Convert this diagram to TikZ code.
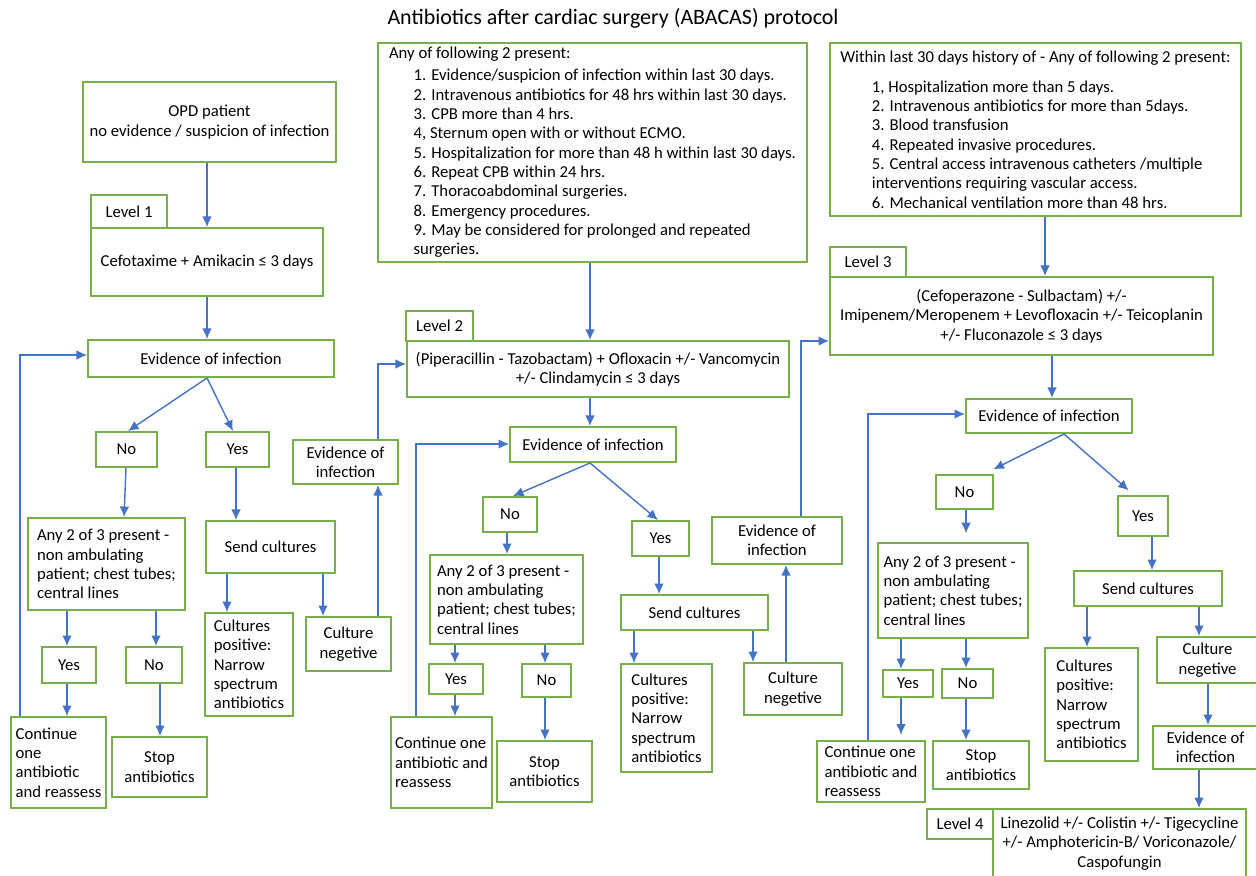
\documentclass[tikz,border=0pt]{standalone}
\usepackage{fontspec}
\setmainfont{Carlito}
\usetikzlibrary{arrows.meta}
\definecolor{grn}{HTML}{77B04A}
\definecolor{blu}{HTML}{4472C4}
\tikzset{
  box/.style={draw=grn, line width=1.1pt, inner sep=0pt, align=center,
    font=\fontsize{9.5}{11}\selectfont},
  lbox/.style={align=left},
  arr/.style={draw=blu, line width=0.8pt, -{Latex[length=6pt,width=5.5pt]}}
}
\newcommand\bx[7][]{\node[box,#1,minimum width={(#5-#3)*0.02cm},minimum height={(#6-#4)*0.02cm}] (#2) at ({(#3+#5)/2},{(#4+#6)/2}) {#7};}
\begin{document}
\begin{tikzpicture}[x=0.02cm,y=-0.02cm]
\useasboundingbox (0,0) rectangle (1256,875);
\node[font=\fontsize{12.5}{14}\selectfont] (title) at (613,18) {Antibiotics after cardiac surgery (ABACAS) protocol};

% ---------- Level 1 column
\bx{opd}{83}{82}{336}{162}{OPD patient\\no evidence / suspicion of infection}
\bx{lv1tab}{91}{195}{167}{228}{Level 1}
\bx{lv1}{91}{228}{323}{296}{Cefotaxime + Amikacin ≤ 3 days}
\bx{ev1}{88}{340}{334}{377}{Evidence of infection}
\bx{no1}{96}{432}{157}{467}{No}
\bx{yes1}{206}{432}{269}{467}{Yes}
\bx[lbox]{any1}{28}{518}{185}{610}{Any 2 of 3 present -\\non ambulating\\patient; chest tubes;\\central lines}
\bx{send1}{206}{521}{335}{573}{Send cultures}
\bx[lbox]{pos1}{205}{613}{293}{716}{Cultures\\positive:\\Narrow\\spectrum\\antibiotics}
\bx{neg1}{306}{617}{391}{671}{Culture\\negetive}
\bx{evs1}{293}{440}{398}{484}{Evidence of\\infection}
\bx{yy1}{42}{647}{96}{683}{Yes}
\bx{nn1}{126}{647}{182}{683}{No}
\bx[lbox]{cont1}{11}{717}{106}{808}{Continue\\one\\antibiotic\\and reassess}
\bx{stop1}{112}{737}{207}{797}{Stop\\antibiotics}

% ---------- Level 2 column
\bx[lbox]{big2}{378}{43}{807}{262}{Any of following 2 present:\\[1.5pt]
\hspace*{14pt}1. Evidence/suspicion of infection within last 30 days.\\
\hspace*{14pt}2. Intravenous antibiotics for 48 hrs within last 30 days.\\
\hspace*{14pt}3. CPB more than 4 hrs.\\
\hspace*{14pt}4, Sternum open with or without ECMO.\\
\hspace*{14pt}5. Hospitalization for more than 48 h within last 30 days.\\
\hspace*{14pt}6. Repeat CPB within 24 hrs.\\
\hspace*{14pt}7. Thoracoabdominal surgeries.\\
\hspace*{14pt}8. Emergency procedures.\\
\hspace*{14pt}9. May be considered for prolonged and repeated\\
\hspace*{14pt}surgeries.}
\bx{lv2tab}{406}{311}{473}{341}{Level 2}
\bx{lv2}{407}{341}{789}{397}{(Piperacillin - Tazobactam) + Ofloxacin +/- Vancomycin\\+/- Clindamycin ≤ 3 days}
\bx{ev2}{510}{427}{676}{462}{Evidence of infection}
\bx{no2}{483}{497}{537}{532}{No}
\bx{yes2}{632}{521}{689}{556}{Yes}
\bx[lbox]{any2}{430}{555}{583}{644}{Any 2 of 3 present -\\non ambulating\\patient; chest tubes;\\central lines}
\bx{yy2}{429}{664}{483}{694}{Yes}
\bx{nn2}{522}{664}{571}{697}{No}
\bx[lbox]{cont2}{391}{717}{492}{808}{Continue one\\antibiotic and\\reassess}
\bx{stop2}{497}{741}{592}{802}{Stop\\antibiotics}
\bx{send2}{621}{595}{768}{630}{Send cultures}
\bx[lbox]{pos2}{621}{664}{712}{772}{Cultures\\positive:\\Narrow\\spectrum\\antibiotics}
\bx{neg2}{744}{663}{842}{715}{Culture\\negetive}
\bx{evs2}{712}{517}{842}{564}{Evidence of\\infection}

% ---------- Level 3 column
\bx[lbox]{big3}{830}{43}{1241}{216}{Within last 30 days history of - Any of following 2 present:\\[6pt]
\hspace*{18pt}1, Hospitalization more than 5 days.\\
\hspace*{18pt}2. Intravenous antibiotics for more than 5days.\\
\hspace*{18pt}3. Blood transfusion\\
\hspace*{18pt}4. Repeated invasive procedures.\\
\hspace*{18pt}5. Central access intravenous catheters /multiple\\
\hspace*{18pt}interventions requiring vascular access.\\
\hspace*{18pt}6. Mechanical ventilation more than 48 hrs.}
\bx{lv3tab}{830}{247}{906}{277}{Level 3}
\bx{lv3}{830}{277}{1213}{355}{(Cefoperazone - Sulbactam) +/-\\Imipenem/Meropenem + Levofloxacin +/- Teicoplanin\\+/- Fluconazole ≤ 3 days}
\bx{ev3}{966}{399}{1132}{433}{Evidence of infection}
\bx{no3}{936}{475}{993}{509}{No}
\bx{yes3}{1118}{496}{1168}{536}{Yes}
\bx[lbox]{any3}{878}{543}{1028}{638}{Any 2 of 3 present -\\non ambulating\\patient; chest tubes;\\central lines}
\bx{yy3}{883}{670}{933}{697}{Yes}
\bx{nn3}{942}{669}{993}{698}{No}
\bx[lbox]{cont3}{817}{741}{925}{802}{Continue one\\antibiotic and\\reassess}
\bx{stop3}{933}{741}{1029}{789}{Stop\\antibiotics}
\bx{send3}{1074}{571}{1222}{606}{Send cultures}
\bx[lbox]{pos3}{1045}{648}{1138}{761}{Cultures\\positive:\\Narrow\\spectrum\\antibiotics}
\bx{neg3}{1157}{637}{1258}{683}{Culture\\negetive}
\bx{evs3}{1153}{726}{1258}{769}{Evidence of\\infection}
\bx{lv4tab}{927}{809}{993}{839}{Level 4}
\bx{lv4}{993}{809}{1246}{878}{Linezolid +/- Colistin +/- Tigecycline\\+/- Amphotericin-B/ Voriconazole/\\Caspofungin}

% ---------- connectors, level 1
\draw[arr] (opd.south -| 207,0) -- (lv1.north -| 207,0);
\draw[arr] (lv1.south -| 207,0) -- (ev1.north -| 207,0);
\draw[arr] (ev1.south -| 207,0) -- (no1.north -| 128,0);
\draw[arr] (ev1.south -| 207,0) -- (yes1.north -| 233,0);
\draw[arr] (no1.south -| 126,0) -- (any1.north -| 124,0);
\draw[arr] (yes1.south -| 236,0) -- (send1.north -| 236,0);
\draw[arr] (send1.south -| 227,0) -- (pos1.north -| 227,0);
\draw[arr] (send1.south -| 323,0) -- (neg1.north -| 323,0);
\draw[arr] (neg1.north -| 378,0) -- (evs1.south -| 378,0);
\draw[arr] (evs1.north -| 378,0) |- (lv2.west |- 0,364);
\draw[arr] (any1.south -| 67,0) -- (yy1.north -| 67,0);
\draw[arr] (any1.south -| 156,0) -- (nn1.north -| 156,0);
\draw[arr] (yy1.south -| 67,0) -- (cont1.north -| 67,0);
\draw[arr] (nn1.south -| 160,0) -- (stop1.north -| 160,0);
\draw[arr] (cont1.north -| 20,0) |- (ev1.west |- 0,355);

% ---------- connectors, level 2
\draw[arr] (big2.south -| 590,0) -- (lv2.north -| 590,0);
\draw[arr] (lv2.south -| 590,0) -- (ev2.north -| 590,0);
\draw[arr] (ev2.south -| 590,0) -- (no2.north -| 513,0);
\draw[arr] (ev2.south -| 590,0) -- (yes2.north -| 658,0);
\draw[arr] (no2.south -| 507,0) -- (any2.north -| 507,0);
\draw[arr] (any2.south -| 455,0) -- (yy2.north -| 455,0);
\draw[arr] (any2.south -| 545,0) -- (nn2.north -| 545,0);
\draw[arr] (yy2.south -| 455,0) -- (cont2.north -| 455,0);
\draw[arr] (nn2.south -| 545,0) -- (stop2.north -| 545,0);
\draw[arr] (cont2.north -| 416,0) |- (ev2.west |- 0,444);
\draw[arr] (yes2.south -| 659,0) -- (send2.north -| 659,0);
\draw[arr] (send2.south -| 634,0) -- (pos2.north -| 634,0);
\draw[arr] (send2.south -| 753,0) -- (neg2.north -| 753,0);
\draw[arr] (neg2.north -| 786,0) -- (evs2.south -| 786,0);
\draw[arr] (evs2.north -| 801,0) |- (lv3.west |- 0,341);

% ---------- connectors, level 3
\draw[arr] (big3.south -| 1045,0) -- (lv3.north -| 1045,0);
\draw[arr] (lv3.south -| 1052,0) -- (ev3.north -| 1052,0);
\draw[arr, shorten >=6pt] (ev3.south -| 1064,0) -- (no3.north -| 984,0);
\draw[arr, shorten >=4pt] (ev3.south -| 1064,0) -- (yes3.north -| 1134,0);
\draw[arr, shorten >=5pt] (no3.south -| 966,0) -- (any3.north -| 966,0);
\draw[arr] (any3.south -| 901,0) -- (yy3.north -| 901,0);
\draw[arr] (any3.south -| 966,0) -- (nn3.north -| 966,0);
\draw[arr, shorten >=3pt] (yy3.south -| 901,0) -- (cont3.north -| 901,0);
\draw[arr] (nn3.south -| 966,0) -- (stop3.north -| 966,0);
\draw[arr] (cont3.north -| 868,0) |- (ev3.west |- 0,414);
\draw[arr] (yes3.south -| 1152,0) -- (send3.north -| 1152,0);
\draw[arr] (send3.south -| 1087,0) -- (pos3.north -| 1087,0);
\draw[arr] (send3.south -| 1199,0) -- (neg3.north -| 1199,0);
\draw[arr] (neg3.south -| 1208,0) -- (evs3.north -| 1208,0);
\draw[arr] (evs3.south -| 1199,0) -- (lv4.north -| 1199,0);
\end{tikzpicture}
\end{document}
